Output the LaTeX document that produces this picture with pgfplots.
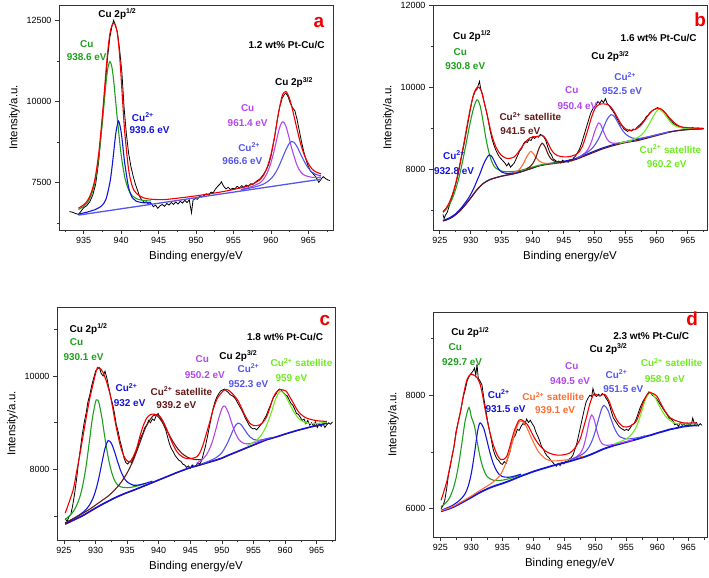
\documentclass[border=0pt]{standalone}
\usepackage{fontspec}
\setmainfont{Liberation Sans}
\usepackage{pgfplots}
\pgfplotsset{compat=1.18}
\definecolor{cugreen}{RGB}{30,160,30}
\definecolor{cublue}{RGB}{20,20,220}
\definecolor{cublueb}{RGB}{85,85,240}
\definecolor{cupurple}{RGB}{180,70,240}
\definecolor{cumaroon}{RGB}{100,25,25}
\definecolor{cuorange}{RGB}{255,110,50}
\definecolor{culgreen}{RGB}{110,235,30}
\definecolor{cured}{RGB}{240,0,0}
\pgfplotsset{
 panel/.style={
  scale only axis, width=274bp, height=225bp, anchor=south west,
  axis line style={line width=0.8pt, black!80},
  tick align=outside, tick pos=left,
  major tick length=4bp, minor tick length=2.5bp,
  tick style={black!80, line width=0.7pt},
  scaled ticks=false,
  /pgf/number format/1000 sep={},
  /pgf/number format/assume math mode=true,
  tick label style={font=\fontsize{9}{10}\selectfont},
  label style={font=\fontsize{11.5}{13}\selectfont},
  xlabel={Binding energy/eV}, ylabel={Intensity/a.u.},
 },
 comp/.style={line width=1.1pt, smooth},
 dat/.style={line width=0.8pt, black},
}
\tikzset{ann/.style={font=\bfseries\fontsize{10}{12}\selectfont, inner sep=0pt},
 lett/.style={font=\bfseries\fontsize{19}{20}\selectfont, inner sep=0pt, text=cured}}
\begin{document}
\begin{tikzpicture}
\useasboundingbox (0,0) rectangle (709bp,578bp);
% ---------------- panel a
\begin{axis}[panel, at={(59bp,348bp)}, xmin=931.7, xmax=968.3, ymin=6030, ymax=12985,
 xtick={935,940,...,965}, minor xtick={932.5,937.5,...,967.5},
 ytick={7500,10000,12500}, minor ytick={6250,8750,11250}]
\addplot[dat] coordinates {(933.1,6600)(933.5,6580)(933.9,6540)(934.3,6510)(934.6,6600)(935.0,6720)(935.4,6780)(935.8,6900)(936.2,7100)(936.6,7450)(937.0,8150)(937.4,9200)(937.8,10300)(938.2,11400)(938.5,12000)(938.8,12350)(939.0,12510)(939.2,12380)(939.5,12150)(939.8,11600)(940.1,10900)(940.4,9800)(940.7,9000)(941.0,8400)(941.3,8000)(941.6,7700)(941.9,7450)(942.2,7250)(942.5,7050)(942.8,6950)(943.1,6880)(943.4,6900)(943.7,6820)(944.0,6850)(944.3,6750)(944.6,6800)(944.9,6700)(945.2,6780)(945.5,6820)(945.8,6760)(946.1,6850)(946.4,6800)(946.7,6880)(947.0,6820)(947.3,6900)(947.6,6830)(947.9,6920)(948.2,6860)(948.5,6950)(948.8,6880)(949.1,6960)(949.4,6560)(949.6,6950)(949.9,7000)(950.2,6980)(950.5,7080)(950.8,7050)(951.1,7100)(951.4,7150)(951.7,7100)(952.0,7200)(952.3,7180)(952.6,7300)(952.9,7380)(953.2,7450)(953.4,7520)(953.7,7380)(954.0,7300)(954.3,7350)(954.6,7280)(954.9,7320)(955.2,7300)(955.5,7380)(955.8,7330)(956.1,7400)(956.4,7350)(956.7,7420)(957.0,7380)(957.3,7460)(957.6,7440)(957.9,7500)(958.2,7560)(958.5,7600)(958.8,7680)(959.1,7780)(959.4,7900)(959.7,8050)(960.0,8300)(960.3,8650)(960.6,9050)(960.9,9500)(961.2,9850)(961.5,10100)(961.8,10220)(962.0,10260)(962.3,10150)(962.6,9950)(962.9,9800)(963.2,9720)(963.5,9450)(963.8,9100)(964.1,8750)(964.4,8450)(964.7,8200)(965.0,8000)(965.3,7850)(965.6,7780)(965.9,7700)(966.2,7600)(966.4,7500)(966.7,7600)(967.0,7680)(967.3,7620)(967.6,7580)(967.9,7560)};
\addplot[cublueb, line width=1.3pt] coordinates {(934.3,6490)(966.7,7601)};
\addplot[cugreen, comp] coordinates {(934.3,6665)(935,6762)(935.5,6879)(936,7100)(936.5,7508)(937,8256)(937.5,9378)(938,10619)(938.25,11064)(938.5,11234)(938.75,11081)(939,10653)(939.5,9446)(940,8360)(940.5,7646)(941,7272)(941.5,7085)(942,7002)(943,6941)(944,6929)};
\addplot[cublue, comp] coordinates {(934.3,6525)(935,6558)(935.5,6585)(936,6621)(936.5,6657)(937,6713)(937.5,6801)(938,6998)(938.5,7499)(938.75,7910)(939,8414)(939.3,9036)(939.65,9394)(940,9061)(940.3,8459)(940.5,8063)(941,7340)(941.5,7023)(942,6923)(943,6871)(944,6875)};
\addplot[cupurple, comp] coordinates {(956,7285)(957,7341)(958,7424)(958.5,7483)(959,7593)(959.5,7788)(960,8103)(960.5,8540)(961,9054)(961.3,9278)(961.6,9377)(962,9245)(962.5,8823)(962.8,8537)(963.5,8028)(964,7821)(964.5,7721)(965,7683)(965.5,7659)(966,7657)(966.7,7661)};
\addplot[cublueb, comp] coordinates {(956,7269)(957,7316)(958,7369)(958.5,7404)(959,7447)(959.5,7516)(960,7611)(960.5,7756)(961,7965)(961.6,8284)(962,8507)(962.5,8720)(962.8,8768)(963.1,8739)(963.5,8607)(964,8366)(964.5,8131)(965,7946)(965.5,7820)(966,7747)(966.7,7705)};
\addplot[cured, comp] coordinates {(934.3,6704)(935,6810)(935.5,6937)(936,7177)(936.5,7604)(937,8391)(937.5,9583)(938,11004)(938.25,11635)(938.5,12103)(938.75,12346)(939,12420)(939.25,12354)(939.5,12098)(939.75,11560)(940,10735)(940.25,9830)(940.5,9006)(941,7892)(941.5,7371)(942,7171)(943,7023)(944,6981)(945,6970)(946,6973)(948,7027)(950,7085)(952,7155)(954,7234)(956,7334)(957,7401)(958,7502)(958.5,7576)(959,7712)(959.5,7959)(960,8352)(960.5,8917)(961,9623)(961.3,9974)(961.6,10234)(962,10311)(962.2,10253)(962.5,10085)(962.8,9840)(963.5,9143)(964,8678)(964.5,8326)(965,8086)(965.5,7919)(966,7827)(966.7,7765)};
\node[ann] at (axis cs:939.5,12700) {Cu 2p\textsuperscript{1/2}};
\node[ann, text=cugreen] at (axis cs:935.4,11790) {Cu};
\node[ann, text=cugreen] at (axis cs:935.4,11360) {938.6 eV};
\node[ann, text=cublue] at (axis cs:942.9,9527) {Cu\textsuperscript{2+}};
\node[ann, text=cublue] at (axis cs:943.8,9115) {939.6 eV};
\node[lett] at (axis cs:966.4,12430) {a};
\node[ann] at (axis cs:962.1,11760) {1.2 wt\% Pt-Cu/C};
\node[ann] at (axis cs:963.1,10587) {Cu 2p\textsuperscript{3/2}};
\node[ann, text=cupurple] at (axis cs:956.9,9784) {Cu};
\node[ann, text=cupurple] at (axis cs:956.9,9342) {961.4 eV};
\node[ann, text=cublueb] at (axis cs:957.1,8600) {Cu\textsuperscript{2+}};
\node[ann, text=cublueb] at (axis cs:956.2,8169) {966.6 eV};
\end{axis}
% ---------------- panel b
\begin{axis}[panel, at={(433bp,348bp)}, xmin=923.9, xmax=968.1, ymin=6520, ymax=12000,
 xtick={925,930,...,965}, minor xtick={927.5,932.5,...,967.5},
 ytick={8000,10000,12000}, minor ytick={7000,9000,11000}]
\addplot[dat] coordinates {(925.5,6900)(925.7,6800)(925.9,6880)(926.2,6950)(926.5,7100)(926.8,7230)(927.1,7380)(927.4,7550)(927.7,7720)(928.0,7900)(928.3,8150)(928.6,8380)(928.9,8600)(929.2,8850)(929.5,9100)(929.8,9350)(930.1,9600)(930.4,9780)(930.7,9900)(931.0,9950)(931.2,10050)(931.4,10140)(931.6,9950)(931.9,9820)(932.2,9600)(932.5,9420)(932.8,9200)(933.1,8950)(933.4,8750)(933.7,8600)(934.0,8480)(934.3,8380)(934.6,8300)(934.9,8250)(935.2,8200)(935.5,8150)(935.8,8080)(936.1,8150)(936.4,8050)(936.7,8100)(937.0,8150)(937.3,8250)(937.6,8350)(937.9,8450)(938.2,8500)(938.5,8620)(938.8,8680)(939.1,8650)(939.4,8720)(939.7,8700)(940.0,8780)(940.3,8750)(940.6,8800)(940.9,8780)(941.2,8850)(941.5,8820)(941.8,8780)(942.1,8700)(942.4,8550)(942.7,8420)(943.0,8350)(943.3,8250)(943.6,8220)(943.9,8180)(944.2,8200)(944.5,8150)(944.8,8220)(945.1,8180)(945.4,8200)(945.7,8170)(946.0,8230)(946.3,8200)(946.6,8280)(946.9,8320)(947.2,8400)(947.5,8480)(947.8,8600)(948.1,8750)(948.4,8900)(948.7,9050)(949.0,9200)(949.3,9350)(949.6,9450)(949.9,9520)(950.2,9560)(950.5,9650)(950.8,9600)(951.1,9680)(951.4,9620)(951.7,9720)(952.0,9600)(952.3,9550)(952.6,9480)(952.9,9420)(953.2,9350)(953.5,9250)(953.8,9180)(954.1,9080)(954.4,9050)(954.7,8980)(955.0,8950)(955.3,8920)(955.6,8960)(955.9,8930)(956.2,8980)(956.5,8960)(956.8,9020)(957.1,9060)(957.4,9100)(957.7,9150)(958.0,9200)(958.3,9280)(958.6,9320)(958.9,9380)(959.2,9420)(959.5,9450)(959.8,9470)(960.1,9500)(960.4,9480)(960.7,9450)(961.0,9420)(961.3,9380)(961.6,9320)(961.9,9250)(962.2,9200)(962.5,9150)(962.8,9100)(963.1,9080)(963.4,9050)(963.7,9020)(964.0,9030)(964.3,9000)(964.6,9020)(964.9,8980)(965.2,9010)(965.5,9000)(965.8,9020)(966.1,8990)(966.4,9000)(966.7,9010)(967.0,8990)(967.3,9000)(967.6,8990)};
\addplot[cublue, comp] coordinates {(925.5,6745)(926,6765)(927,6835)(928,6955)(929,7115)(930,7305)(931,7505)(932,7655)(933,7745)(934,7795)(935,7835)(936,7865)(937,7895)(938,7935)(939,7985)(940,8035)(941,8085)(942,8120)(943,8145)(944,8170)(945,8195)(946,8225)(947,8265)(948,8325)(949,8385)(950,8445)(951,8505)(952,8555)(953,8600)(954,8640)(955,8675)(956,8700)(957,8725)(958,8765)(959,8800)(960,8840)(961,8875)(962,8910)(963,8935)(964,8955)(965,8968)(966,8978)(967,8982)(967.5,8986)};
\addplot[cumaroon, comp] coordinates {(925.5,6740)(926,6760)(927,6830)(928,6950)(929,7110)(930,7300)(931,7500)(932,7650)(933,7740)(934,7790)(935,7830)(936,7860)(937,7890)(938,7930)(939,7980)(940,8030)(941,8080)(942,8110)(943,8130)(944,8150)(945,8170)(946,8200)(947,8240)(948,8300)(949,8360)(950,8420)(951,8480)(952,8530)(953,8575)(954,8615)(955,8650)(956,8675)(957,8700)(958,8740)(959,8780)(960,8820)(961,8860)(962,8900)(963,8930)(964,8950)(965,8965)(966,8975)(967,8980)(967.5,8985)};
\addplot[cugreen, comp] coordinates {(925.5,6948)(926,7023)(926.5,7134)(927,7279)(927.5,7487)(928,7747)(928.5,8070)(929,8435)(929.5,8828)(930,9205)(930.5,9513)(931,9690)(931.5,9546)(932,9146)(932.5,8700)(933,8364)(933.5,8144)(934,8031)(935,7953)(936,7941)(937,7947)(938,7972)(940,8056)(942,8127)(944,8162)};
\addplot[cublue, comp] coordinates {(925.5,6753)(926.5,6813)(927.5,6909)(928.5,7066)(929.5,7268)(930,7395)(930.5,7543)(931,7722)(931.5,7901)(932,8102)(932.5,8257)(933,8350)(933.5,8284)(934,8129)(934.5,8002)(935,7931)(935.5,7904)(936,7898)(937,7912)(938,7945)};
\addplot[cuorange, comp] coordinates {(937,7919)(937.5,7958)(938,8025)(938.5,8141)(939,8298)(939.6,8430)(940,8399)(940.5,8291)(941,8205)(941.5,8158)(942,8145)(942.5,8143)};
\addplot[cumaroon, comp] coordinates {(939,8013)(939.5,8059)(940,8141)(940.5,8290)(941,8507)(941.5,8635)(942,8537)(942.5,8355)(943,8241)(943.5,8194)(944,8183)(944.5,8183)};
\addplot[cupurple, comp] coordinates {(947.5,8302)(948,8347)(948.5,8407)(949,8511)(949.5,8686)(950,8927)(950.6,9126)(951,9068)(951.5,8881)(952,8730)(952.5,8653)(953,8631)(954,8642)(955,8667)(956,8686)};
\addplot[cublueb, comp] coordinates {(947,8269)(948,8343)(949,8436)(949.5,8498)(950,8591)(950.5,8711)(951,8868)(951.5,9048)(952,9220)(952.6,9330)(953,9311)(953.5,9200)(954,9062)(954.5,8939)(955,8851)(956,8762)(957,8747)(958,8771)(959,8803)(960,8838)(962,8912)};
\addplot[culgreen, comp] coordinates {(954,8634)(955,8676)(956,8715)(957,8778)(957.5,8834)(958,8915)(958.5,9027)(959,9164)(959.5,9308)(960,9421)(960.3,9452)(960.5,9451)(961,9392)(961.5,9289)(962,9188)(962.5,9107)(963,9054)(964,9007)(965,8998)(966,8998)(967.5,9000)};
\addplot[cured, comp] coordinates {(925.5,6968)(926,7050)(926.5,7180)(927,7370)(927.5,7620)(928,7950)(928.5,8330)(929,8730)(929.5,9150)(930,9540)(930.5,9850)(931,9990)(931.3,10000)(931.7,9900)(932,9720)(932.5,9420)(933,9070)(933.5,8770)(934,8560)(934.5,8420)(935,8330)(935.5,8280)(936,8260)(936.5,8270)(937,8300)(937.5,8380)(938,8490)(938.5,8600)(939,8690)(939.5,8760)(940,8790)(940.5,8790)(941,8810)(941.5,8830)(942,8760)(942.5,8620)(943,8470)(943.5,8380)(944,8330)(945,8300)(946,8310)(947,8360)(947.5,8430)(948,8560)(948.5,8780)(949,9020)(949.5,9280)(950,9470)(950.5,9560)(951,9590)(951.5,9590)(952,9580)(952.5,9530)(953,9430)(953.5,9300)(954,9160)(954.5,9050)(955,8980)(955.5,8950)(956,8950)(956.5,8970)(957,9010)(957.5,9080)(958,9180)(958.5,9290)(959,9380)(959.5,9450)(960,9480)(960.5,9480)(961,9430)(961.5,9350)(962,9260)(962.5,9180)(963,9110)(963.5,9060)(964,9030)(965,9010)(966,9000)(967.5,8990)};
\node[lett] at (axis cs:967.0,11642) {b};
\node[ann] at (axis cs:960.3,11195) {1.6 wt\% Pt-Cu/C};
\node[ann] at (axis cs:930.2,11252) {Cu 2p\textsuperscript{1/2}};
\node[ann, text=cugreen] at (axis cs:928.3,10854) {Cu};
\node[ann, text=cugreen] at (axis cs:929.1,10504) {930.8 eV};
\node[ann] at (axis cs:952.5,10748) {Cu 2p\textsuperscript{3/2}};
\node[ann, text=cublueb] at (axis cs:954.9,10260) {Cu\textsuperscript{2+}};
\node[ann, text=cublueb] at (axis cs:954.4,9894) {952.5 eV};
\node[ann, text=cupurple] at (axis cs:946.3,9919) {Cu};
\node[ann, text=cupurple] at (axis cs:947.2,9545) {950.4 eV};
\node[ann, text=cumaroon] at (axis cs:939.6,9285) {Cu\textsuperscript{2+} satellite};
\node[ann, text=cumaroon] at (axis cs:938.0,8935) {941.5 eV};
\node[ann, text=cublue] at (axis cs:927.3,8350) {Cu\textsuperscript{2+}};
\node[ann, text=cublue] at (axis cs:927.3,7967) {932.8 eV};
\node[ann, text=culgreen] at (axis cs:962.2,8488) {Cu\textsuperscript{2+} satellite};
\node[ann, text=culgreen] at (axis cs:961.6,8122) {960.2 eV};
\end{axis}
% ---------------- panel c
\begin{axis}[panel, at={(57bp,38bp)}, width=278bp, height=233bp, xmin=923.9, xmax=967.9, ymin=6500, ymax=11470,
 xtick={925,930,...,965}, minor xtick={927.5,932.5,...,967.5},
 ytick={8000,10000}, minor ytick={7000,9000,11000}]
\addplot[dat] coordinates {(925.2,6950)(925.5,6900)(925.8,7000)(926.1,7050)(926.4,7250)(926.7,7500)(927.0,7800)(927.3,8150)(927.6,8450)(927.9,8750)(928.2,9000)(928.5,9200)(928.8,9450)(929.1,9600)(929.4,9800)(929.7,9950)(930.0,10100)(930.3,10150)(930.6,10180)(930.9,10050)(931.2,10000)(931.5,10100)(931.8,9950)(932.1,9750)(932.4,9550)(932.7,9400)(933.0,9200)(933.3,8950)(933.6,8800)(933.9,8600)(934.2,8450)(934.5,8250)(934.8,8150)(935.1,8120)(935.4,8180)(935.7,8150)(936.0,8250)(936.3,8350)(936.6,8450)(936.9,8600)(937.2,8700)(937.5,8780)(937.8,8900)(938.1,8950)(938.4,9050)(938.7,9000)(939.0,9080)(939.3,9050)(939.6,9150)(939.9,9200)(940.2,9120)(940.5,9050)(940.8,8950)(941.1,8850)(941.4,8700)(941.7,8550)(942.0,8450)(942.3,8380)(942.6,8300)(942.9,8250)(943.2,8200)(943.5,8180)(943.8,8120)(944.1,8100)(944.4,8050)(944.7,8080)(945.0,8030)(945.3,8100)(945.6,8060)(945.9,8080)(946.2,8150)(946.5,8120)(946.8,8200)(947.1,8350)(947.4,8500)(947.7,8700)(948.0,8900)(948.3,9100)(948.6,9300)(948.9,9450)(949.2,9550)(949.5,9620)(949.8,9680)(950.1,9700)(950.4,9720)(950.7,9680)(951.0,9650)(951.3,9600)(951.6,9580)(951.9,9550)(952.2,9500)(952.5,9420)(952.8,9350)(953.1,9280)(953.4,9200)(953.7,9100)(954.0,9030)(954.3,8950)(954.6,8900)(954.9,8870)(955.2,8880)(955.5,8850)(955.8,8900)(956.1,8950)(956.4,9000)(956.7,9080)(957.0,9150)(957.3,9250)(957.6,9350)(957.9,9450)(958.2,9550)(958.5,9600)(958.8,9680)(959.1,9720)(959.4,9700)(959.7,9650)(960.0,9600)(960.3,9580)(960.6,9500)(960.9,9420)(961.2,9380)(961.5,9300)(961.8,9200)(962.1,9180)(962.4,9120)(962.7,9050)(963.0,9080)(963.3,8980)(963.6,9050)(963.9,8950)(964.2,9000)(964.5,8930)(964.8,9020)(965.1,8900)(965.4,8980)(965.7,8920)(966.0,8980)(966.3,8900)(966.6,8960)(966.9,9000)(967.2,8970)(967.5,9020)};
\addplot[cumaroon, comp] coordinates {(925.2,6835)(926,6885)(927,6950)(928,7015)(929,7095)(930,7175)(931,7250)(932,7320)(933,7390)(934,7450)(935,7505)(936,7555)(937,7610)(938,7665)(939,7720)(940,7775)(941,7830)(942,7885)(943,7940)(944,7990)(945,8040)(946,8075)(947,8115)(948,8155)(949,8195)(950,8240)(951,8300)(952,8355)(953,8410)(954,8465)(955,8520)(956,8575)(957,8630)(958,8670)(959,8710)(960,8755)(961,8795)(962,8835)(963,8870)(964,8905)(965,8935)(966,8965)(966.6,8990)};
\addplot[cublue, line width=1.4pt, smooth] coordinates {(925.2,6845)(926,6893)(927,6958)(928,7025)(929,7105)(930,7185)(931,7260)(932,7330)(933,7398)(934,7460)(935,7515)(936,7565)(937,7618)(938,7673)(939,7728)(940,7783)(941,7838)(942,7893)(943,7948)(944,7998)(945,8048)(946,8085)(947,8125)(948,8165)(949,8205)(950,8250)(951,8310)(952,8365)(953,8420)(954,8475)(955,8530)(956,8585)(957,8638)(958,8678)(959,8718)(960,8763)(961,8803)(962,8843)(963,8878)(964,8913)(965,8943)(966,8973)(966.6,8998)};
\addplot[cugreen, comp] coordinates {(925.2,6941)(926,7032)(926.5,7109)(927,7238)(927.5,7409)(928,7682)(928.5,8072)(929,8574)(929.5,9095)(930,9443)(930.2,9490)(930.5,9444)(931,9113)(931.5,8665)(932,8263)(932.5,7967)(933,7776)(933.5,7673)(934,7632)(935,7615)(936,7633)(937,7668)(938,7709)};
\addplot[cublue, comp] coordinates {(925.2,6861)(926,6919)(927,6998)(928,7088)(928.5,7153)(929,7238)(929.5,7360)(930,7546)(930.5,7810)(931,8141)(931.5,8455)(932,8620)(932.5,8564)(933,8385)(933.5,8166)(934,7970)(934.5,7829)(935,7739)(936,7668)(937,7679)(938,7713)(939,7755)};
\addplot[cumaroon, comp] coordinates {(925.2,6866)(927,6990)(929,7152)(930,7245)(931,7340)(932,7437)(933,7564)(934,7722)(935,7931)(936,8211)(937,8568)(938,8921)(939.2,9161)(940,9119)(941,8913)(942,8657)(943,8448)(944,8312)(945,8240)(946,8214)(947,8215)};
\addplot[cupurple, comp] coordinates {(946,8136)(947,8228)(947.5,8308)(948,8430)(948.5,8603)(949,8839)(949.5,9098)(950,9304)(950.3,9358)(950.5,9354)(951,9224)(951.5,9017)(952,8823)(952.5,8680)(953,8598)(953.5,8559)(954,8551)(955,8572)(956,8610)(957,8656)};
\addplot[cublueb, comp] coordinates {(947,8136)(948,8186)(949,8250)(949.5,8298)(950,8365)(950.5,8471)(951,8605)(951.5,8761)(952,8910)(952.5,8993)(953,8965)(953.5,8871)(954,8770)(954.5,8694)(955,8645)(956,8630)(957,8661)(958,8691)};
\addplot[culgreen, comp] coordinates {(954,8507)(955,8584)(956,8699)(956.5,8793)(957,8925)(957.5,9092)(958,9296)(958.5,9505)(959,9646)(959.2,9669)(959.5,9664)(960,9589)(960.5,9464)(961,9328)(961.5,9209)(962,9118)(962.5,9054)(963,9013)(964,8984)(965,8986)(966,9003)(966.6,9023)};
\addplot[cured, comp] coordinates {(925.2,7073)(925.8,7300)(926.5,7590)(927,7950)(927.5,8309)(928,8700)(928.6,9172)(929.1,9530)(929.6,9819)(930,10050)(930.3,10179)(930.7,10160)(931.2,10071)(931.8,9850)(932.3,9603)(932.7,9330)(933.1,9028)(933.5,8760)(933.9,8525)(934.3,8350)(934.7,8237)(935.1,8180)(935.4,8165)(935.9,8260)(936.5,8453)(937,8700)(937.6,8956)(938.2,9120)(938.9,9186)(939.5,9180)(940.2,9136)(940.7,9030)(941.2,8884)(941.8,8680)(942.3,8525)(942.9,8380)(943.4,8309)(943.9,8260)(944.4,8237)(945.2,8240)(946,8273)(946.5,8360)(947,8525)(947.5,8750)(948.1,9028)(948.6,9280)(949.2,9500)(949.7,9603)(950.2,9680)(950.7,9711)(951.2,9680)(951.8,9603)(952.2,9540)(952.6,9460)(953.1,9320)(953.6,9172)(954.2,9030)(954.6,8970)(955,8942)(955.5,8940)(956,8956)(956.6,9030)(957.1,9136)(957.6,9320)(958.1,9532)(958.6,9650)(959.2,9711)(959.7,9700)(960.2,9675)(960.7,9560)(961.3,9424)(961.8,9300)(962.3,9208)(963.1,9120)(963.9,9079)(965,9045)(966.6,9028)};
\node[lett] at (axis cs:966.3,11185) {c};
\node[ann] at (axis cs:960.0,10826) {1.8 wt\% Pt-Cu/C};
\node[ann] at (axis cs:928.9,11005) {Cu 2p\textsuperscript{1/2}};
\node[ann, text=cugreen] at (axis cs:927.0,10718) {Cu};
\node[ann, text=cugreen] at (axis cs:928.1,10394) {930.1 eV};
\node[ann, text=cublue] at (axis cs:934.9,9747) {Cu\textsuperscript{2+}};
\node[ann, text=cublue] at (axis cs:935.4,9424) {932 eV};
\node[ann, text=cumaroon] at (axis cs:943.6,9675) {Cu\textsuperscript{2+} satellite};
\node[ann, text=cumaroon] at (axis cs:942.8,9373) {939.2 eV};
\node[ann, text=cupurple] at (axis cs:946.9,10358) {Cu};
\node[ann, text=cupurple] at (axis cs:947.3,10020) {950.2 eV};
\node[ann] at (axis cs:952.6,10430) {Cu 2p\textsuperscript{3/2}};
\node[ann, text=cublueb] at (axis cs:954.2,10164) {Cu\textsuperscript{2+}};
\node[ann, text=cublueb] at (axis cs:954.2,9819) {952.3 eV};
\node[ann, text=culgreen] at (axis cs:962.6,10286) {Cu\textsuperscript{2+} satellite};
\node[ann, text=culgreen] at (axis cs:961.0,9948) {959 eV};
\end{axis}
% ---------------- panel d
\begin{axis}[panel, at={(433bp,41bp)}, xmin=923.8, xmax=968.0, ymin=5500, ymax=9470,
 xtick={925,930,...,965}, minor xtick={927.5,932.5,...,967.5},
 ytick={6000,8000}, minor ytick={7000,9000}, xlabel={Binding enegy/eV}]
\addplot[dat] coordinates {(925.1,6000)(925.4,6050)(925.7,6150)(926.0,6350)(926.3,6600)(926.6,6750)(926.9,6950)(927.2,7100)(927.5,7350)(927.8,7500)(928.1,7650)(928.4,7800)(928.7,7980)(929.0,8100)(929.3,8250)(929.6,8330)(929.9,8380)(930.2,8420)(930.5,8480)(930.7,8350)(930.9,8550)(931.1,8300)(931.4,8250)(931.7,8180)(932.0,7950)(932.3,7750)(932.6,7550)(932.9,7380)(933.2,7220)(933.5,7050)(933.8,6950)(934.1,6880)(934.4,6850)(934.7,6800)(935.0,6780)(935.3,6830)(935.6,6800)(935.9,6900)(936.2,7000)(936.5,7150)(936.8,7250)(937.1,7300)(937.4,7400)(937.7,7380)(938.0,7450)(938.3,7500)(938.6,7480)(938.9,7580)(939.2,7520)(939.5,7560)(939.8,7500)(940.1,7450)(940.4,7350)(940.7,7280)(941.0,7200)(941.3,7100)(941.6,7050)(941.9,6980)(942.2,6930)(942.5,6900)(942.8,6850)(943.1,6820)(943.4,6780)(943.7,6750)(944.0,6800)(944.3,6760)(944.6,6820)(944.9,6790)(945.2,6840)(945.5,6830)(945.8,6880)(946.1,6900)(946.4,6950)(946.7,7050)(947.0,7150)(947.3,7300)(947.6,7450)(947.9,7600)(948.2,7750)(948.5,7880)(948.8,7950)(949.1,8000)(949.4,7980)(949.6,8120)(949.9,8000)(950.2,7980)(950.5,8020)(950.8,7990)(951.1,8030)(951.4,8010)(951.7,7950)(952.0,7900)(952.3,7820)(952.6,7700)(952.9,7600)(953.2,7550)(953.5,7500)(953.8,7450)(954.1,7420)(954.4,7400)(954.7,7380)(955.0,7400)(955.3,7380)(955.6,7420)(955.9,7480)(956.2,7500)(956.5,7560)(956.8,7650)(957.1,7750)(957.4,7830)(957.7,7900)(958.0,7950)(958.3,8000)(958.6,8060)(958.9,8050)(959.2,8000)(959.5,7980)(959.8,7950)(960.1,7900)(960.4,7850)(960.7,7800)(961.0,7750)(961.3,7700)(961.6,7650)(961.9,7600)(962.2,7580)(962.5,7550)(962.8,7480)(963.1,7500)(963.4,7450)(963.7,7520)(964.0,7470)(964.3,7500)(964.6,7450)(964.9,7510)(965.2,7470)(965.5,7500)(965.7,7600)(966.0,7480)(966.3,7520)(966.6,7460)(966.9,7500)(967.2,7470)};
\addplot[cublue, line width=1.8pt, smooth] coordinates {(925.1,5953)(926,5985)(927,6025)(928,6080)(929,6140)(930,6200)(931,6265)(932,6320)(933,6370)(934,6410)(935,6445)(936,6485)(937,6530)(938,6575)(939,6615)(940,6655)(941,6690)(942,6722)(943,6755)(944,6785)(945,6812)(946,6840)(947,6875)(948,6905)(949,6945)(950,6990)(951,7040)(952,7080)(953,7115)(954,7145)(955,7175)(956,7205)(957,7235)(958,7270)(959,7300)(960,7335)(961,7365)(962,7398)(963,7420)(964,7445)(965,7460)(966,7468)(966.5,7470)};
\addplot[cugreen, comp] coordinates {(925.1,6035)(926,6117)(926.5,6198)(927,6331)(927.5,6532)(928,6819)(928.5,7189)(929,7554)(929.6,7786)(930,7614)(930.5,7452)(931,7134)(931.5,6861)(932,6682)(932.5,6570)(933,6526)(933.5,6503)(934,6495)(935,6503)(936,6527)(937,6562)(938,6600)};
\addplot[cublue, comp] coordinates {(925.1,5971)(926,6010)(927,6061)(928,6139)(928.5,6193)(929,6269)(929.5,6403)(930,6633)(930.5,6981)(931,7368)(931.4,7513)(932,7411)(932.5,7203)(933,6983)(933.5,6803)(934,6680)(934.5,6600)(935,6565)(936,6554)(937,6577)(938,6609)};
\addplot[cuorange, comp] coordinates {(925.1,5962)(927,6038)(929,6159)(930,6224)(931,6296)(932,6362)(933,6431)(934,6514)(934.5,6574)(935,6662)(935.5,6787)(936,6939)(936.5,7133)(937,7330)(937.5,7490)(937.9,7547)(938.5,7512)(939,7415)(939.5,7289)(940,7172)(940.5,7063)(941,6978)(942,6876)(943,6843)(944,6846)(945,6857)(946,6874)(947,6902)(948,6926)};
\addplot[cupurple, comp] coordinates {(946,6863)(947,6920)(947.5,6969)(948,7067)(948.5,7270)(949,7537)(949.4,7653)(949.8,7573)(950.3,7350)(950.8,7192)(951.3,7131)(952,7118)(953,7135)(954,7158)(955,7185)(956,7212)};
\addplot[cublueb, comp] coordinates {(946,6864)(947,6911)(948,6966)(948.5,7017)(949,7095)(949.5,7210)(950,7374)(950.5,7576)(951,7758)(951.4,7824)(952,7742)(952.5,7586)(953,7438)(953.5,7329)(954,7266)(955,7230)(956,7238)(957,7257)(958,7286)};
\addplot[culgreen, comp] coordinates {(953,7140)(954,7181)(955,7234)(955.5,7273)(956,7334)(956.5,7424)(957,7557)(957.5,7727)(958,7906)(958.7,8048)(959,8042)(959.5,7983)(960,7884)(960.5,7775)(961,7679)(961.5,7608)(962,7558)(963,7502)(964,7495)(965,7496)(966,7495)(966.5,7495)};
\addplot[cured, comp] coordinates {(925.1,6148)(925.6,6320)(926.1,6513)(926.6,6780)(927.1,7044)(927.6,7380)(928.2,7693)(928.7,8000)(929.3,8283)(929.9,8372)(930.4,8355)(930.9,8313)(931.4,8195)(931.8,8000)(932.2,7752)(932.6,7530)(933,7339)(933.4,7170)(933.8,7044)(934.2,6940)(934.7,6867)(935.2,6870)(935.7,6926)(936.1,7060)(936.5,7221)(937,7400)(937.7,7564)(938.3,7555)(939,7487)(939.5,7390)(940,7280)(940.5,7190)(941.1,7103)(941.9,7020)(942.7,6974)(943.5,6950)(944.3,6944)(945.1,6955)(945.9,6985)(946.7,7070)(947.5,7221)(948,7400)(948.6,7634)(949.1,7850)(949.7,8018)(950.2,8010)(950.7,7988)(951.1,8010)(951.5,8018)(951.9,7960)(952.3,7870)(952.8,7720)(953.4,7575)(954,7490)(954.5,7446)(955,7440)(955.6,7457)(956.1,7490)(956.6,7546)(957.1,7680)(957.7,7870)(958.2,7990)(958.7,8047)(959.3,8030)(959.9,7988)(960.4,7890)(960.9,7782)(961.5,7680)(962,7610)(962.5,7575)(963.3,7540)(964.1,7516)(965,7510)(966.3,7516)};
\node[lett] at (axis cs:965.6,9345) {d};
\node[ann] at (axis cs:959.0,9050) {2.3 wt\% Pt-Cu/C};
\node[ann] at (axis cs:929.8,9109) {Cu 2p\textsuperscript{1/2}};
\node[ann, text=cugreen] at (axis cs:927.4,8844) {Cu};
\node[ann, text=cugreen] at (axis cs:928.5,8590) {929.7 eV};
\node[ann] at (axis cs:952.1,8814) {Cu 2p\textsuperscript{3/2}};
\node[ann, text=cupurple] at (axis cs:946.2,8519) {Cu};
\node[ann, text=cupurple] at (axis cs:945.9,8254) {949.5 eV};
\node[ann, text=cublueb] at (axis cs:953.4,8372) {Cu\textsuperscript{2+}};
\node[ann, text=cublueb] at (axis cs:954.5,8118) {951.5 eV};
\node[ann, text=culgreen] at (axis cs:962.3,8578) {Cu\textsuperscript{2+} satellite};
\node[ann, text=culgreen] at (axis cs:961.2,8283) {958.9 eV};
\node[ann, text=cublue] at (axis cs:934.4,8018) {Cu\textsuperscript{2+}};
\node[ann, text=cublue] at (axis cs:935.5,7764) {931.5 eV};
\node[ann, text=cuorange] at (axis cs:943.2,7977) {Cu\textsuperscript{2+} satellite};
\node[ann, text=cuorange] at (axis cs:943.5,7740) {939.1 eV};
\end{axis}
\end{tikzpicture}
\end{document}
